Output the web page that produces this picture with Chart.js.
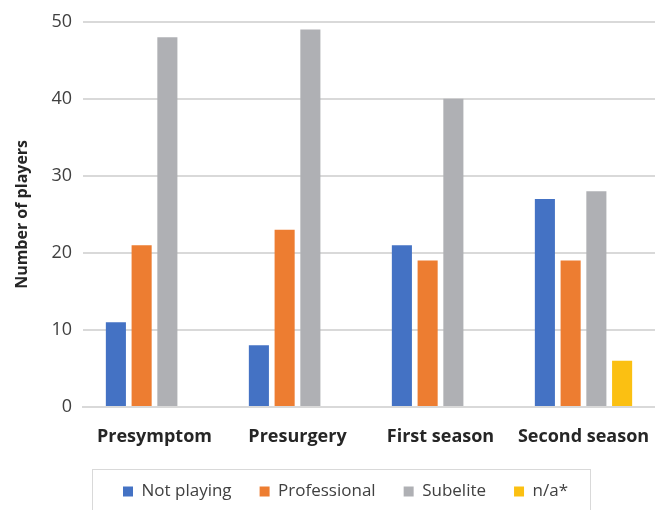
<!DOCTYPE html>
<html>
<head>
<meta charset="utf-8">
<script src="https://cdn.jsdelivr.net/npm/chart.js@4/dist/chart.umd.min.js"></script>
<style>
  html, body { margin: 0; padding: 0; background: #fff; }
  #wrap { width: 655px; height: 510px; }
</style>
</head>
<body>
<div id="wrap"><canvas id="barChart" width="655" height="510"></canvas></div>
<script>
var categories = ["Presymptom", "Presurgery", "First season", "Second season"];
var notPlaying = [11, 8, 21, 27];
var professional = [21, 23, 19, 19];
var subelite = [48, 49, 40, 28];
var notAvailable = [0, 0, 0, 6];
var yTicks = [0, 10, 20, 30, 40, 50];

// shifts the legend a bit right and draws the grey frame around it
var legendFrame = {
    id: 'legendFrame',
    afterLayout: function (chart) {
        chart.legend.left += 18;
        chart.legend.right += 18;
    },
    afterDraw: function (chart) {
        var boxes = chart.legend.legendHitBoxes;
        if (!boxes || !boxes.length) return;
        var ctx = chart.ctx;
        var minX = boxes[0].left, maxX = 0, top = boxes[0].top, h = boxes[0].height;
        boxes.forEach(function (b) {
            minX = Math.min(minX, b.left);
            maxX = Math.max(maxX, b.left + b.width);
        });
        ctx.save();
        ctx.strokeStyle = '#d9d9d9';
        ctx.lineWidth = 1;
        var fy = Math.round(top + h / 2 - 23) + 0.5;
        ctx.strokeRect(Math.round(minX - 31) + 0.5, fy, Math.round(maxX - minX + 53), 60);
        ctx.restore();
    }
};

var barData = {
    labels: categories,
    datasets: [
        { label: "Not playing", backgroundColor: '#4472c4', data: notPlaying },
        { label: "Professional", backgroundColor: '#ed7d31', data: professional },
        { label: "Subelite", backgroundColor: '#afb0b4', data: subelite },
        { label: "n/a*", backgroundColor: '#fbc012', data: notAvailable }
    ]
};

var barOptions = {
    responsive: false,
    animation: false,
    layout: { padding: { top: 13, right: 0, left: 0, bottom: 0 } },
    datasets: {
        bar: { categoryPercentage: 0.72, barPercentage: 0.78, borderWidth: 0 }
    },
    plugins: {
        legend: {
            position: 'bottom',
            labels: {
                boxWidth: 10,
                boxHeight: 10,
                padding: 28,
                color: '#404040',
                font: { family: 'Open Sans', size: 17 }
            }
        },
        tooltip: { enabled: false }
    },
    scales: {
        x: {
            grid: { display: false, drawTicks: false },
            border: { color: '#d9d9d9', width: 2 },
            ticks: {
                color: '#262626',
                padding: 19,
                font: { family: 'Open Sans', size: 18, weight: 'bold' }
            },
            afterFit: function (scale) {
                scale.height = 48;
                scale.paddingLeft = 0;
                scale.paddingRight = 0;
            }
        },
        y: {
            min: 0,
            max: 50,
            afterBuildTicks: function (scale) {
                scale.ticks = yTicks.map(function (v) { return { value: v }; });
            },
            grid: { color: '#d9d9d9', lineWidth: 2, drawTicks: false },
            border: { display: false },
            ticks: {
                color: '#404040',
                padding: 11,
                font: { family: 'Open Sans', size: 18 }
            },
            title: {
                display: true,
                text: 'Number of players',
                color: '#262626',
                padding: { top: 13, bottom: 0 },
                font: { family: 'Open Sans', size: 16, weight: 'bold' }
            },
            afterFit: function (scale) { scale.width = 83; }
        }
    }
};

var ctx2 = document.getElementById("barChart").getContext("2d");
new Chart(ctx2, { type: 'bar', data: barData, options: barOptions, plugins: [legendFrame] });
</script>
</body>
</html>
